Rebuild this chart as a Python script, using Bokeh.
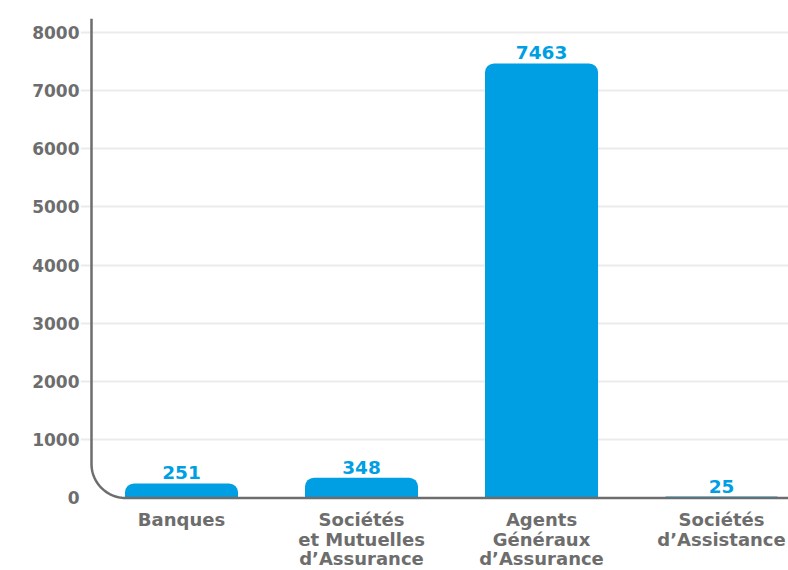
import numpy as np
from bokeh.plotting import figure
from bokeh.models import FixedTicker, Range1d, ColumnDataSource
from bokeh.core.properties import value
from bokeh.embed import file_html
from bokeh.resources import INLINE

categories = ["Banques", "Sociétés\net Mutuelles\nd’Assurance",
              "Agents\nGénéraux\nd’Assurance", "Sociétés\nd’Assistance"]
values = [251, 348, 7463, 25]
y_ticks = [0, 1000, 2000, 3000, 4000, 5000, 6000, 7000, 8000]

BLUE = "#009fe3"
GREY = "#6d6d6d"
FONT = "DejaVu Sans"

x_start, x_end = -0.5611, 3.372
y_start, y_end = -1245, 8234

xs = list(range(len(categories)))
src = ColumnDataSource(dict(x=xs, top=values, lab=[str(v) for v in values],
                            cat=categories, base=[0] * len(values)))

p = figure(width=788, height=570, output_backend="svg", toolbar_location=None,
           x_range=Range1d(x_start, x_end), y_range=Range1d(y_start, y_end),
           x_axis_location=None,
           min_border_left=80, min_border_right=0, min_border_top=18, min_border_bottom=0)
p.outline_line_color = None
p.background_fill_color = "white"
p.border_fill_color = "white"
p.xgrid.visible = False
p.ygrid.ticker = FixedTicker(ticks=y_ticks[1:])
p.ygrid.grid_line_color = "#ebebeb"
p.ygrid.grid_line_width = 2

ax = p.yaxis[0]
ax.ticker = FixedTicker(ticks=y_ticks)
ax.axis_line_color = None
ax.major_tick_line_color = None
ax.minor_tick_line_color = None
ax.major_tick_in = 0
ax.major_tick_out = 0
ax.major_label_standoff = 1
ax.major_label_text_font = FONT
ax.major_label_text_font_style = "bold"
ax.major_label_text_font_size = "17px"
ax.major_label_text_color = GREY

p.vbar(x="x", top="top", bottom=0, width=0.628, source=src,
       fill_color=BLUE, line_color=None, border_radius=(9, 9, 0, 0))

# axis line with rounded corner
rx, ry = 0.19, 585
t = np.linspace(0, np.pi / 2, 30)
cx, cy = -0.5 + rx, ry
arc_x = list(cx - rx * np.cos(t))
arc_y = list(cy - ry * np.sin(t))
line_x = [-0.5, -0.5] + arc_x + [x_end + 0.1]
line_y = [y_end, ry] + arc_y + [0]
p.line(line_x, line_y, line_color=GREY, line_width=2.5)

p.text(x="x", y="top", text="lab", source=src, text_align="center",
       text_baseline="bottom", y_offset=-4, text_color=BLUE,
       text_font=value(FONT), text_font_style="bold", text_font_size="18.5px")

p.text(x="x", y="base", text="cat", source=src, text_align="center",
       text_baseline="top", y_offset=11, text_color=GREY, text_line_height=0.93,
       text_font=value(FONT), text_font_style="bold", text_font_size="18px")

open("out.html", "w").write(file_html(p, INLINE))
